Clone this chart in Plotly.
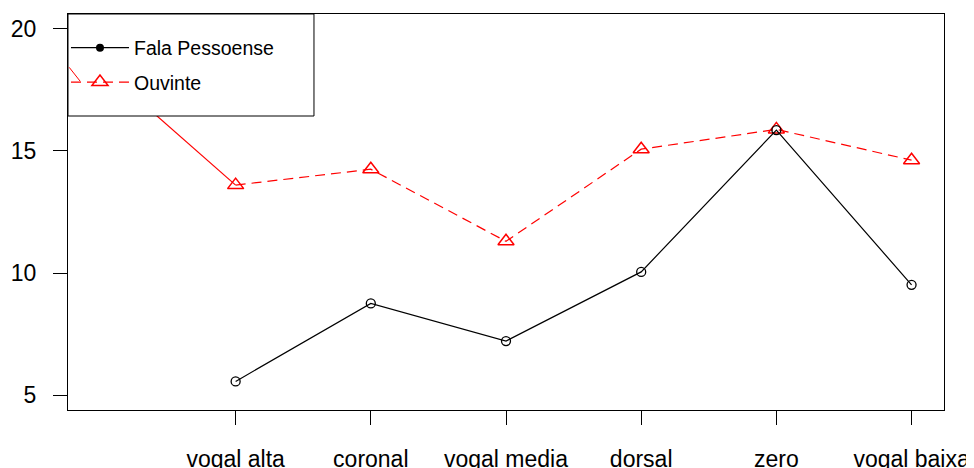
import plotly.graph_objects as go

# ---- data ----
categories = ["vogal alta", "coronal", "vogal media", "dorsal", "zero", "vogal baixa"]
positions = [1, 2, 3, 4, 5, 6]
fala_pessoense = [5.57, 8.76, 7.22, 10.05, 15.85, 9.52]
ouvinte = [13.6, 14.25, 11.3, 15.07, 15.88, 14.62]
# solid red segment that enters from the upper left into "vogal alta"
ouvinte_lead_x = [0, 1]
ouvinte_lead_y = [18.46, 13.6]
# small stray red stroke inside the legend box
legend_stub_x = [-0.24, -0.15]
legend_stub_y = [18.48, 17.85]
y_ticks = [5, 10, 15, 20]

FONT = "Liberation Sans, Arial, sans-serif"

fig = go.Figure()

# red solid lead line (no legend)
fig.add_trace(go.Scatter(
    x=ouvinte_lead_x, y=ouvinte_lead_y, mode="lines",
    line=dict(color="red", width=1.2), showlegend=False, hoverinfo="skip"))

# Ouvinte: red dashed with open triangles
fig.add_trace(go.Scatter(
    x=positions, y=ouvinte, mode="lines+markers",
    line=dict(color="red", width=1.2, dash="10px,6px"),
    marker=dict(symbol="triangle-up-open", size=14, color="red", line=dict(width=1.5, color="red")),
    showlegend=False))

# Fala Pessoense: black solid with open circles
fig.add_trace(go.Scatter(
    x=positions, y=fala_pessoense, mode="lines+markers",
    line=dict(color="black", width=1.2),
    marker=dict(symbol="circle-open", size=9, color="black", line=dict(width=1.3, color="black")),
    showlegend=False))

# legend-only entries
fig.add_trace(go.Scatter(
    x=[None], y=[None], mode="lines+markers", name="Fala Pessoense",
    line=dict(color="black", width=1.2),
    marker=dict(symbol="circle", size=8, color="black"),
    legendgroup="a"))
fig.add_trace(go.Scatter(
    x=[None], y=[None], mode="lines+markers", name="Ouvinte",
    line=dict(color="red", width=1.2, dash="10px,6px"),
    marker=dict(symbol="triangle-up-open", size=14, color="red", line=dict(width=1.5, color="red")),
    legendgroup="b"))

# legend box (white, hides what's underneath)
fig.add_shape(type="rect", xref="paper", yref="paper",
              x0=0, x1=0.2808, y0=0.7424, y1=1,
              fillcolor="white", line=dict(color="black", width=1), layer="above")

fig.add_annotation(
    x=legend_stub_x[1], y=legend_stub_y[1], ax=legend_stub_x[0], ay=legend_stub_y[0],
    xref="x", yref="y", axref="x", ayref="y", text="", showarrow=True,
    arrowhead=0, arrowwidth=1, arrowcolor="red", standoff=0, startstandoff=0,
    font=dict(size=1))

# the page adds an 8px body margin, so the figure is sized 8px smaller
fig.update_layout(
    width=966, height=460,
    margin=dict(l=60, r=30, t=6, b=58, pad=0),
    paper_bgcolor="white", plot_bgcolor="white",
    font=dict(family=FONT, color="black"),
    legend=dict(
        x=-0.0023, y=0.8712, xanchor="left", yanchor="middle",
        bgcolor="rgba(0,0,0,0)", borderwidth=0,
        font=dict(size=19.5, family=FONT, color="black"),
        itemwidth=58, tracegroupgap=6, traceorder="grouped"),
    xaxis=dict(
        range=[-0.24, 6.24], tickmode="array", tickvals=positions, ticktext=categories,
        ticks="outside", ticklen=14, tickwidth=1, tickcolor="black",
        showline=True, linecolor="black", linewidth=1, mirror=True,
        showgrid=False, zeroline=False, automargin=False,
        tickfont=dict(size=23, family=FONT, color="black"), ticklabelstandoff=14),
    yaxis=dict(
        range=[4.4, 20.6], tickmode="array", tickvals=y_ticks,
        ticks="outside", ticklen=14, tickwidth=1, tickcolor="black",
        showline=True, linecolor="black", linewidth=1, mirror=True,
        showgrid=False, zeroline=False, automargin=False,
        tickfont=dict(size=23, family=FONT, color="black"), ticklabelstandoff=12),
)

fig.write_html("out.html")
